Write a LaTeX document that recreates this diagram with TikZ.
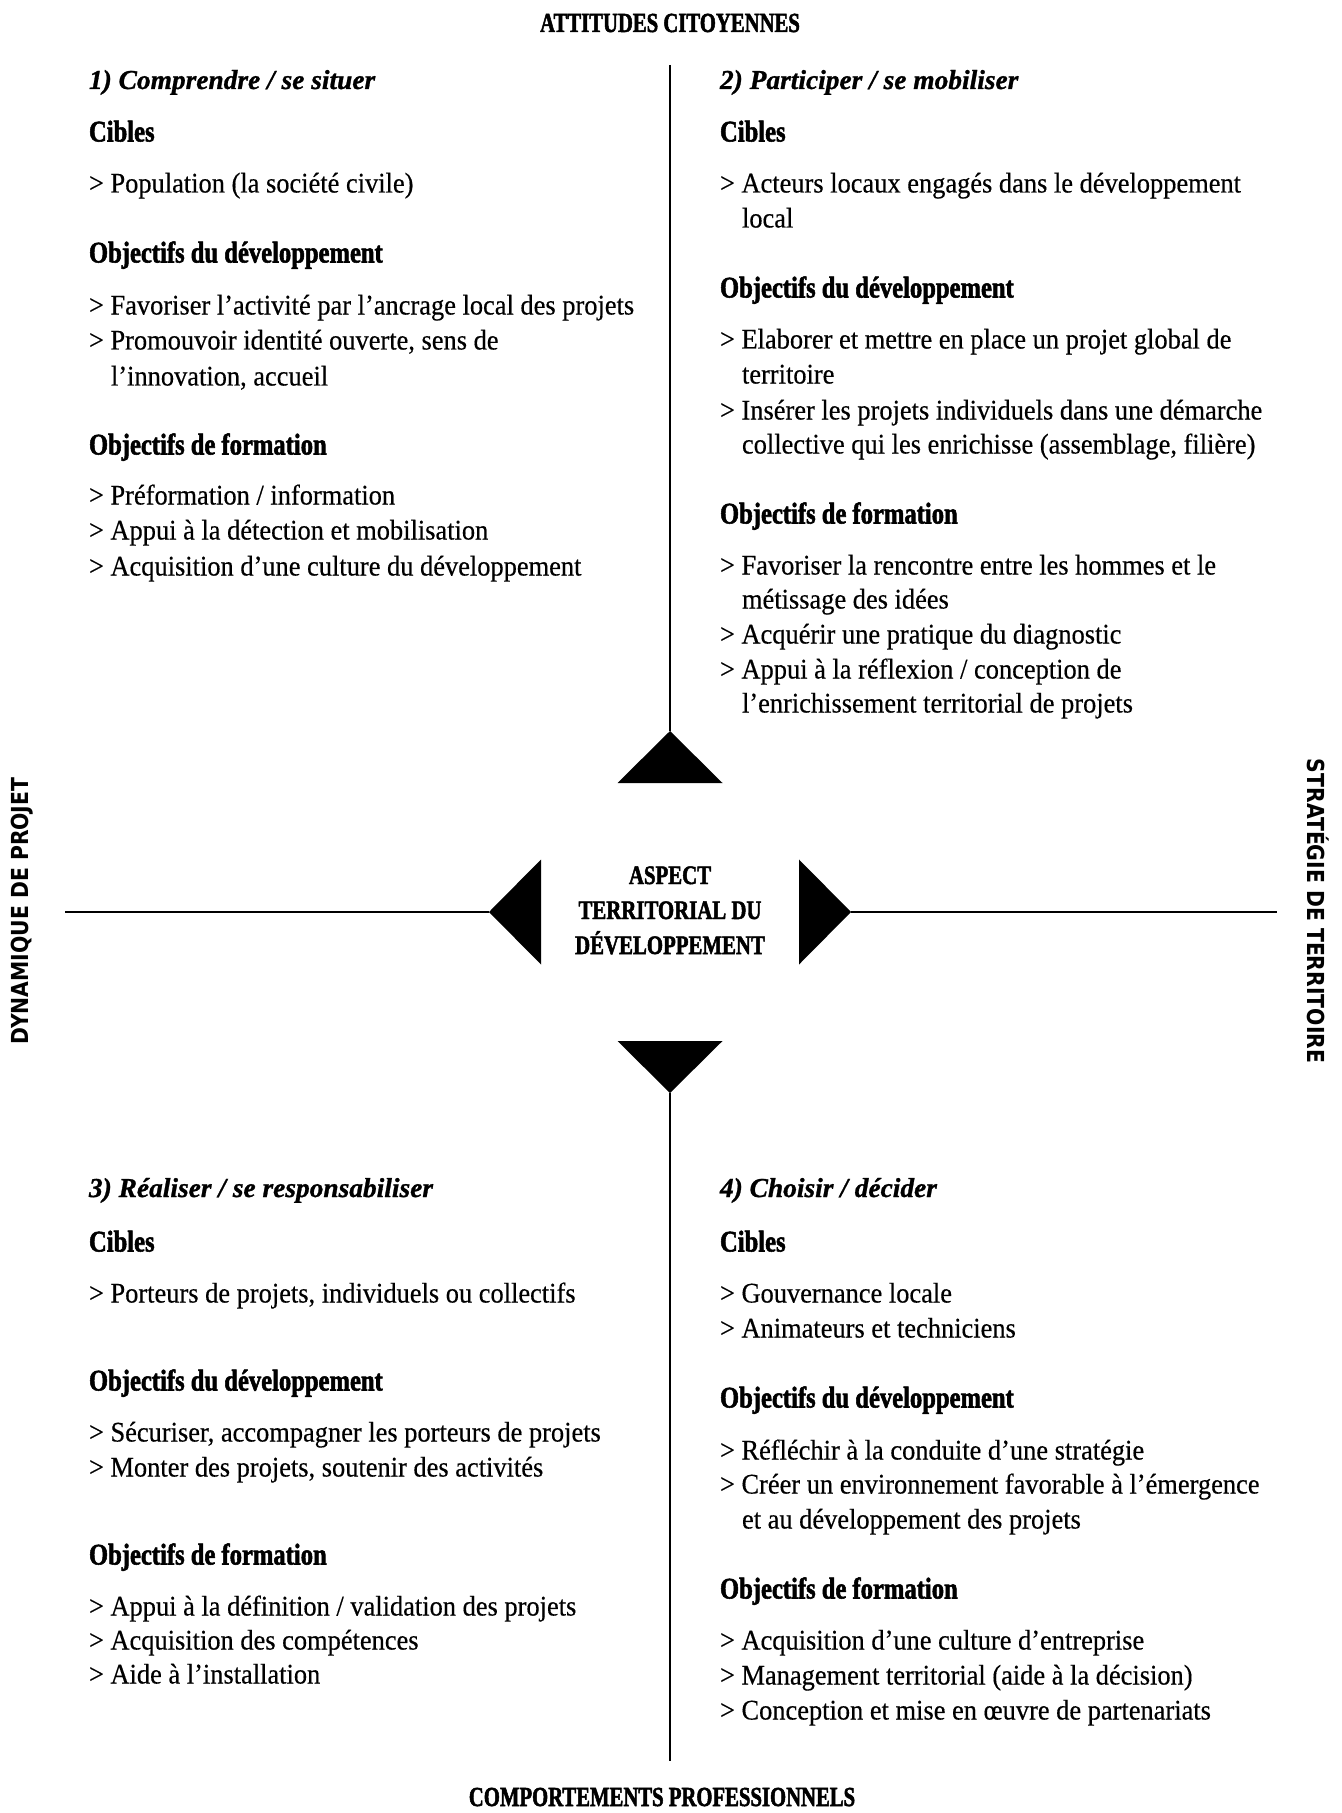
\documentclass[tikz,border=0pt]{standalone}
\usepackage{fontspec}
\newfontfamily\bodyfont[FakeStretch=0.93, FakeBold=0.4]{Liberation Serif}
\newfontfamily\headfont[FakeStretch=0.82, FakeBold=1.8]{Liberation Serif}
\newfontfamily\itheadfont[FakeStretch=1.0, FakeBold=1.0]{Liberation Serif}
\newfontfamily\titlefont[FakeStretch=0.75, FakeBold=1.8]{Liberation Serif}
\newfontfamily\centrefont[FakeStretch=0.78, FakeBold=1.8]{Liberation Serif}
\newfontfamily\sidefont[FakeStretch=0.87]{DejaVu Sans}
\tikzset{
  txt/.style={inner sep=0pt, outer sep=0pt, anchor=base west},
  body/.style={txt, font=\bodyfont\fontsize{14.2}{17}\selectfont},
  head/.style={txt, font=\headfont\bfseries\fontsize{15}{18}\selectfont},
  ihead/.style={txt, font=\itheadfont\bfseries\itshape\fontsize{13.7}{16}\selectfont},
  ttl/.style={inner sep=0pt, outer sep=0pt, anchor=base, font=\titlefont\bfseries\fontsize{13.8}{16}\selectfont},
  ctr/.style={inner sep=0pt, outer sep=0pt, anchor=base, font=\centrefont\bfseries\fontsize{13.35}{16}\selectfont},
  side/.style={inner sep=0pt, outer sep=0pt, font=\sidefont\bfseries\fontsize{11.7}{14}\selectfont},
  axisline/.style={line width=1.1pt, black},
  tri/.style={fill=black, draw=none}
}
\begin{document}
\begin{tikzpicture}[x=0.5pt, y=-0.5pt]
\useasboundingbox (0,0) rectangle (1342,1813);

% titles
\node[ttl] (ttop) at (670,32) {ATTITUDES CITOYENNES};
\node[ttl] (tbot) at (662,1806) {COMPORTEMENTS PROFESSIONNELS};
\node[side, rotate=90] (tleft) at (22,911) {DYNAMIQUE DE PROJET};
\node[side, rotate=-90] (tright) at (1318,911) {STRATÉGIE DE TERRITOIRE};

% centre
\node[ctr] (c1) at (670,884) {ASPECT};
\node[ctr] (c2) at (670,919) {TERRITORIAL DU};
\node[ctr] (c3) at (670,954) {DÉVELOPPEMENT};

% axes
\coordinate (topend) at (670,65);
\coordinate (botend) at (670,1761);
\coordinate (leftend) at (65,912);
\coordinate (rightend) at (1277,912);
\coordinate (upapex) at (670,731);
\coordinate (upl) at (617.5,783);
\coordinate (upr) at (722.5,783);
\coordinate (dnapex) at (670,1093);
\coordinate (dnl) at (617.5,1041);
\coordinate (dnr) at (722.5,1041);
\coordinate (lfapex) at (489,912);
\coordinate (lft) at (541,859.5);
\coordinate (lfb) at (541,964.5);
\coordinate (rtapex) at (851,912);
\coordinate (rtt) at (799,859.5);
\coordinate (rtb) at (799,964.5);

\draw[axisline] (topend) -- (upapex);
\draw[axisline] (dnapex) -- (botend);
\draw[axisline] (leftend) -- (lfapex);
\draw[axisline] (rtapex) -- (rightend);
\path[tri] (upapex) -- (upl) -- (upr) -- cycle;
\path[tri] (dnapex) -- (dnl) -- (dnr) -- cycle;
\path[tri] (lfapex) -- (lft) -- (lfb) -- cycle;
\path[tri] (rtapex) -- (rtt) -- (rtb) -- cycle;

% quadrant 1
\node[ihead] (q1h) at (89,89) {1) Comprendre / se situer};
\node[head] (q1c) at (89,141.5) {Cibles};
\node[body] (q1c1) at (89,192.5) {> Population (la société civile)};
\node[head] (q1d) at (89,262.5) {Objectifs du développement};
\node[body] (q1d1) at (89,314.5) {> Favoriser l’activité par l’ancrage local des projets};
\node[body] (q1d2) at (89,349.5) {> Promouvoir identité ouverte, sens de};
\node[body] (q1d3) at (111,385.5) {l’innovation, accueil};
\node[head] (q1f) at (89,454.5) {Objectifs de formation};
\node[body] (q1f1) at (89,504.5) {> Préformation / information};
\node[body] (q1f2) at (89,539.5) {> Appui à la détection et mobilisation};
\node[body] (q1f3) at (89,575.5) {> Acquisition d’une culture du développement};

% quadrant 2
\node[ihead] (q2h) at (720,89) {2) Participer / se mobiliser};
\node[head] (q2c) at (720,141.5) {Cibles};
\node[body] (q2c1) at (720,192.5) {> Acteurs locaux engagés dans le développement};
\node[body] (q2c2) at (742,227.5) {local};
\node[head] (q2d) at (720,297.5) {Objectifs du développement};
\node[body] (q2d1) at (720,348.5) {> Elaborer et mettre en place un projet global de};
\node[body] (q2d2) at (742,383.5) {territoire};
\node[body] (q2d3) at (720,419.5) {> Insérer les projets individuels dans une démarche};
\node[body] (q2d4) at (742,453.5) {collective qui les enrichisse (assemblage, filière)};
\node[head] (q2f) at (720,523.5) {Objectifs de formation};
\node[body] (q2f1) at (720,574.5) {> Favoriser la rencontre entre les hommes et le};
\node[body] (q2f2) at (742,608.5) {métissage des idées};
\node[body] (q2f3) at (720,643.5) {> Acquérir une pratique du diagnostic};
\node[body] (q2f4) at (720,678.5) {> Appui à la réflexion / conception de};
\node[body] (q2f5) at (742,712.5) {l’enrichissement territorial de projets};

% quadrant 3
\node[ihead] (q3h) at (89,1197) {3) Réaliser / se responsabiliser};
\node[head] (q3c) at (89,1251.5) {Cibles};
\node[body] (q3c1) at (89,1302.5) {> Porteurs de projets, individuels ou collectifs};
\node[head] (q3d) at (89,1390.5) {Objectifs du développement};
\node[body] (q3d1) at (89,1441.5) {> Sécuriser, accompagner les porteurs de projets};
\node[body] (q3d2) at (89,1476.5) {> Monter des projets, soutenir des activités};
\node[head] (q3f) at (89,1564.5) {Objectifs de formation};
\node[body] (q3f1) at (89,1615.5) {> Appui à la définition / validation des projets};
\node[body] (q3f2) at (89,1649.5) {> Acquisition des compétences};
\node[body] (q3f3) at (89,1683.5) {> Aide à l’installation};

% quadrant 4
\node[ihead] (q4h) at (720,1197) {4) Choisir / décider};
\node[head] (q4c) at (720,1251.5) {Cibles};
\node[body] (q4c1) at (720,1302.5) {> Gouvernance locale};
\node[body] (q4c2) at (720,1337.5) {> Animateurs et techniciens};
\node[head] (q4d) at (720,1407.5) {Objectifs du développement};
\node[body] (q4d1) at (720,1459.5) {> Réfléchir à la conduite d’une stratégie};
\node[body] (q4d2) at (720,1493.5) {> Créer un environnement favorable à l’émergence};
\node[body] (q4d3) at (742,1528.5) {et au développement des projets};
\node[head] (q4f) at (720,1598.5) {Objectifs de formation};
\node[body] (q4f1) at (720,1649.5) {> Acquisition d’une culture d’entreprise};
\node[body] (q4f2) at (720,1684.5) {> Management territorial (aide à la décision)};
\node[body] (q4f3) at (720,1719.5) {> Conception et mise en œuvre de partenariats};
\end{tikzpicture}
\end{document}
